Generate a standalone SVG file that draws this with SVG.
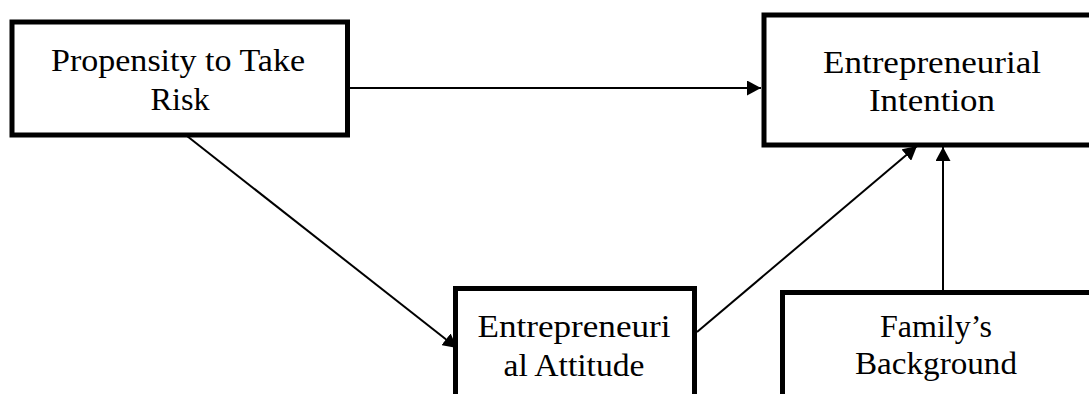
<svg xmlns="http://www.w3.org/2000/svg" width="1089" height="394" viewBox="0 0 1089 394">
  <style>
    .box { fill: #ffffff; stroke: #000000; stroke-width: 5; }
    .lbl { font-family: "Liberation Serif", "Times New Roman", serif; font-size: 32px; fill: #000000; text-anchor: middle; }
    .conn { stroke: #000000; stroke-width: 2; fill: none; marker-end: url(#arrow); }
  </style>
  <defs>
    <marker id="arrow" markerUnits="userSpaceOnUse" markerWidth="15" markerHeight="15" refX="14" refY="7.5" orient="auto" viewBox="0 0 15 15">
      <path d="M0,0 L14,7.5 L0,15 Z" fill="#000000"/>
    </marker>
  </defs>
  <rect width="1089" height="394" fill="#ffffff"/>

  <g id="connectors">
    <line class="conn" x1="349" y1="88" x2="761" y2="88"/>
    <line class="conn" x1="187" y1="136" x2="457" y2="348"/>
    <line class="conn" x1="697" y1="332" x2="917" y2="146"/>
    <line class="conn" x1="943" y1="290" x2="943" y2="147"/>
  </g>

  <g id="propensity">
    <rect class="box" x="12" y="22" width="335.5" height="113"/>
    <text class="lbl" x="178" y="71" textLength="254" lengthAdjust="spacingAndGlyphs">Propensity to Take</text>
    <text class="lbl" x="180" y="110" textLength="59" lengthAdjust="spacingAndGlyphs">Risk</text>
  </g>

  <g id="intention">
    <rect class="box" x="764" y="15" width="336" height="130"/>
    <text class="lbl" x="932" y="72.5" textLength="218" lengthAdjust="spacingAndGlyphs">Entrepreneurial</text>
    <text class="lbl" x="932" y="111" textLength="126" lengthAdjust="spacingAndGlyphs">Intention</text>
  </g>

  <g id="attitude">
    <rect class="box" x="455.5" y="288.5" width="239" height="120"/>
    <text class="lbl" x="574" y="337" textLength="193" lengthAdjust="spacingAndGlyphs">Entrepreneuri</text>
    <text class="lbl" x="574" y="376" textLength="141" lengthAdjust="spacingAndGlyphs">al Attitude</text>
  </g>

  <g id="family">
    <rect class="box" x="782.5" y="292.5" width="310" height="120"/>
    <text class="lbl" x="936" y="337" textLength="112" lengthAdjust="spacingAndGlyphs">Family’s</text>
    <text class="lbl" x="936" y="374" textLength="162" lengthAdjust="spacingAndGlyphs">Background</text>
  </g>
</svg>
